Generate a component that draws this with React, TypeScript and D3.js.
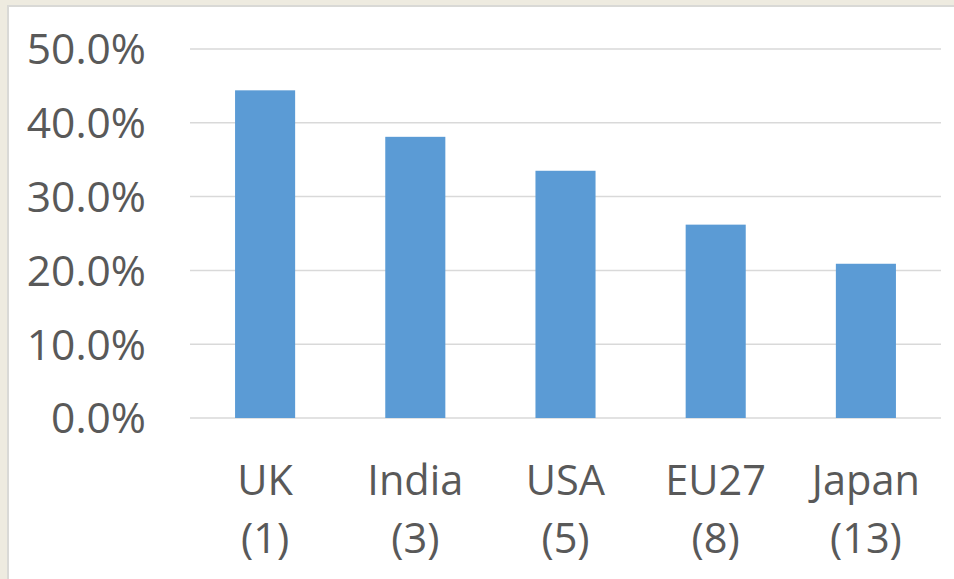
import React from "react";
import * as d3 from "d3";

const categories = ["UK", "India", "USA", "EU27", "Japan"];
const ranks = ["(1)", "(3)", "(5)", "(8)", "(13)"];
const values = [0.444, 0.381, 0.335, 0.262, 0.209];
const yTicks = [0, 0.1, 0.2, 0.3, 0.4, 0.5];

export default function App() {
  const W = 954, H = 579;
  const x0 = 190, x1 = 941, yTop = 49, yBottom = 418;
  const x = d3.scaleBand().domain(categories).range([x0, x1]).paddingInner(0.6).paddingOuter(0.3);
  const y = d3.scaleLinear().domain([0, 0.5]).range([yBottom, yTop]);
  const fmt = d3.format(".1%");
  const font = "'Open Sans', sans-serif";
  const textColor = "#595959";
  return (
    <svg width={W} height={H} style={{ position: "absolute", left: 0, top: 0 }}>
      <rect x={0} y={0} width={W} height={H} fill="#eeebe0" />
      <rect x={7} y={5} width={W - 7} height={H - 5} fill="#d9d9d6" />
      <rect x={9} y={7} width={W - 9} height={H - 7} fill="#ffffff" />
      {yTicks.map((t) => (
        <g key={t}>
          <line x1={x0} x2={x1} y1={y(t)} y2={y(t)} stroke="#d9d9d9" strokeWidth={1.5} />
          <text x={146} y={y(t)} dy="0.36em" textAnchor="end" fontFamily={font} fontSize={42.5} fill={textColor}>
            {fmt(t)}
          </text>
        </g>
      ))}
      {categories.map((c, i) => (
        <rect key={c} x={x(c)} y={y(values[i])} width={x.bandwidth()} height={y(0) - y(values[i])} fill="#5b9bd5" />
      ))}
      {categories.map((c, i) => (
        <text key={c} x={(x(c) as number) + x.bandwidth() / 2} textAnchor="middle" fontFamily={font} fontSize={41.5} fill={textColor}>
          <tspan x={(x(c) as number) + x.bandwidth() / 2} y={495}>{c}</tspan>
          <tspan x={(x(c) as number) + x.bandwidth() / 2} y={553}>{ranks[i]}</tspan>
        </text>
      ))}
    </svg>
  );
}
